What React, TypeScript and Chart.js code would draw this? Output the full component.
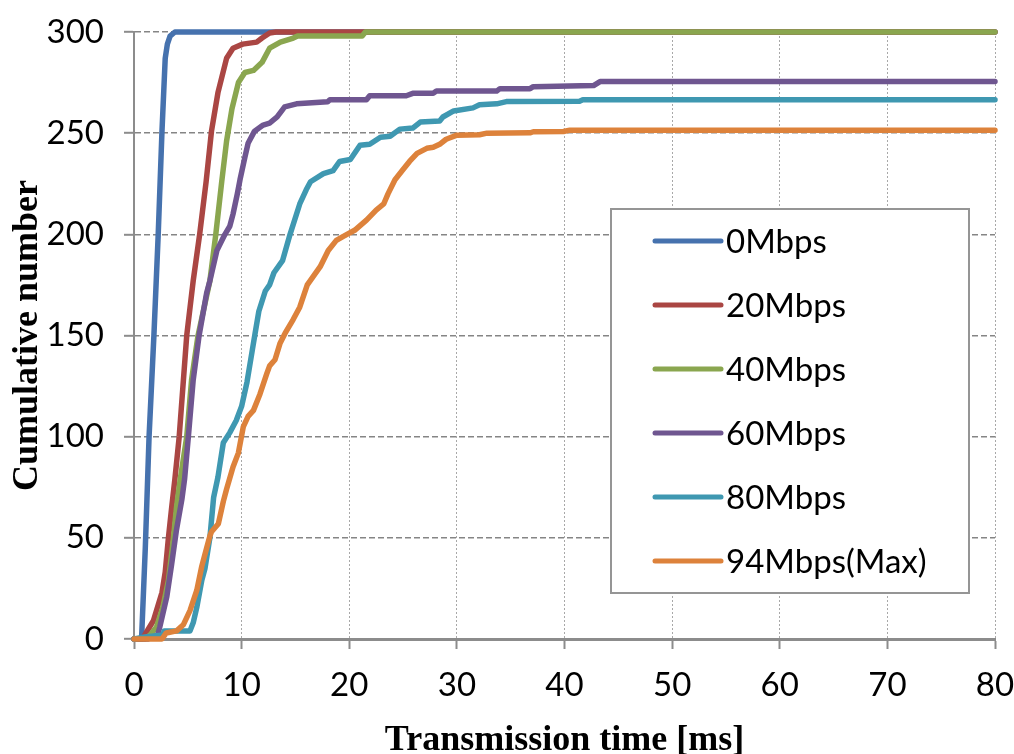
import React, { useEffect, useRef } from "react";
import { Chart, registerables } from "chart.js";

Chart.register(...registerables);

const seriesLabels = ["0Mbps", "20Mbps", "40Mbps", "60Mbps", "80Mbps", "94Mbps(Max)"];
const seriesColors = ["#4672AE", "#AA4643", "#8AA64F", "#6F5690", "#3F98B1", "#DD823B"];

const time0 = [0, 0.7, 1.05, 1.4, 1.85, 2.25, 2.6, 2.9, 3.1, 3.35, 3.8, 80];
const count0 = [0, 0, 45, 100, 150, 200, 251, 287, 294, 298, 300, 300];

const time1 = [0, 0.8, 1.0, 1.8, 2.6, 2.9, 3.2, 3.5, 3.8, 4.2, 4.9, 5.5, 6.1, 6.7, 7.2, 7.8, 8.6, 9.2, 10.1, 11.4, 11.9, 12.6, 13.2, 80];
const count1 = [0, 0, 2, 9, 23, 33, 50, 65, 79, 100, 150, 177, 200, 226, 251, 270, 287, 292, 294, 295, 297, 299.5, 300, 300];

const time2 = [0, 1.0, 1.5, 2.1, 2.7, 3.2, 3.65, 3.95, 4.3, 4.9, 5.35, 5.95, 7.05, 7.6, 8.15, 8.6, 9.1, 9.7, 10.3, 11.1, 11.9, 12.6, 13.6, 14.8, 15.2, 21.2, 21.5, 80];
const count2 = [0, 0, 2, 6, 16, 29, 49, 65, 79, 100, 128, 150, 177, 200, 226, 246, 262, 275, 280, 281, 285, 292, 295, 297, 298, 298, 300, 300];

const time3 = [0, 1.3, 2.2, 2.4, 3.05, 3.5, 3.95, 4.45, 4.7, 5.05, 5.5, 6.05, 6.75, 7.05, 7.7, 8.45, 8.9, 9.2, 9.6, 9.85, 10.3, 10.6, 11.2, 12.0, 12.6, 13.3, 14.0, 15.1, 18.0, 18.2, 21.6, 21.9, 25.3, 25.9, 27.8, 28.1, 33.7, 34.0, 36.8, 37.1, 42.7, 43.3, 80];
const count3 = [0, 0, 2, 6, 21, 37, 54, 69, 79, 100, 128, 150, 171, 177, 192, 200, 204, 210, 220, 227, 238, 245, 251, 254, 255, 258, 263, 264.5, 265.5, 266.5, 266.5, 268.5, 268.5, 269.7, 269.7, 270.8, 270.8, 272, 272, 273, 273.5, 275.5, 275.5];

const time4 = [0, 1.0, 2.7, 2.8, 5.2, 5.5, 5.85, 6.3, 6.6, 7.05, 7.4, 7.8, 8.3, 8.9, 9.5, 10.0, 10.5, 11.0, 11.25, 11.6, 12.2, 12.6, 13.0, 13.8, 14.5, 15.4, 16.0, 16.4, 17.6, 18.5, 19.1, 20.1, 21.0, 21.9, 22.9, 23.8, 24.7, 25.9, 26.6, 28.4, 28.7, 29.7, 31.5, 32.1, 33.7, 34.6, 41.4, 41.7, 80];
const count4 = [0, 1, 2, 4, 4, 8, 16, 29, 35, 50, 70, 80, 97, 102, 108, 115, 127, 143, 151, 162, 172, 175, 181, 187, 200, 215, 222, 226, 230, 231.5, 236, 237, 244, 244.5, 248, 248.5, 252, 252.5, 255.5, 256, 258, 261, 262.5, 264, 264.5, 265.6, 265.8, 266.5, 266.5];

const time5 = [0, 2.6, 3.0, 3.96, 4.58, 5.2, 5.83, 6.3, 6.75, 7.06, 7.2, 7.84, 8.3, 8.6, 9.2, 9.7, 10.16, 10.6, 11.1, 11.7, 12.33, 12.6, 13.1, 13.56, 14.03, 14.8, 15.4, 16.1, 17.3, 18.05, 18.8, 19.45, 20.5, 21.6, 22.5, 23.2, 23.6, 24.25, 25.0, 25.6, 26.3, 27.2, 27.8, 28.4, 29.0, 30.0, 32.1, 32.8, 36.8, 37.1, 39.9, 40.5, 80];
const count5 = [0, 0, 3, 4, 7, 14, 24, 36, 45, 51, 53, 57, 68, 74, 85, 92, 105, 110, 113, 121, 131, 135, 138, 146, 151, 158, 164, 175, 184, 192, 197, 199, 202, 207, 212, 215, 220, 227, 232, 236, 240, 242.5, 243, 244.5, 247, 249, 249.2, 250, 250.2, 250.7, 250.8, 251.5, 251.5];

const seriesTimes = [time0, time1, time2, time3, time4, time5];
const seriesCounts = [count0, count1, count2, count3, count4, count5];

const xMin = 0;
const xMax = 80;
const xStep = 10;
const yMin = 0;
const yMax = 300;
const yStep = 50;

const xTitle = "Transmission time [ms]";
const yTitle = "Cumulative number";

const TICK_FONT = "Lato";
const TITLE_FONT = "'Liberation Serif', 'Times New Roman', serif";

const boxLegend = {
  id: "boxLegend",
  afterDraw(chart: any) {
    const ctx = chart.ctx as CanvasRenderingContext2D;
    const left = 611, top = 209, right = 969, bottom = 593;
    ctx.save();
    ctx.fillStyle = "#ffffff";
    ctx.fillRect(left, top, right - left, bottom - top);
    ctx.strokeStyle = "#959595";
    ctx.lineWidth = 2;
    ctx.strokeRect(left, top, right - left, bottom - top);
    const firstY = 241;
    const gap = 64;
    chart.data.datasets.forEach((ds: any, i: number) => {
      const y = firstY + i * gap;
      ctx.strokeStyle = ds.borderColor;
      ctx.lineWidth = 5;
      ctx.lineCap = "round";
      ctx.beginPath();
      ctx.moveTo(655, y);
      ctx.lineTo(721, y);
      ctx.stroke();
      ctx.fillStyle = "#000000";
      ctx.font = `33px ${TICK_FONT}`;
      ctx.textBaseline = "middle";
      ctx.textAlign = "left";
      ctx.fillText(ds.label, 726, y + 1);
    });
    ctx.restore();
  },
};

export default function App() {
  const canvasRef = useRef<HTMLCanvasElement | null>(null);

  useEffect(() => {
    if (!canvasRef.current) return;
    const datasets = seriesLabels.map((label, i) => ({
      label,
      data: seriesTimes[i].map((t, j) => ({ x: t, y: seriesCounts[i][j] })),
      borderColor: seriesColors[i],
      backgroundColor: seriesColors[i],
      borderWidth: 5.5,
      pointRadius: 0,
      pointHoverRadius: 0,
      tension: 0,
      fill: false,
      borderJoinStyle: "round" as const,
      borderCapStyle: "round" as const,
      clip: false as const,
      order: -i,
    }));

    const chart = new Chart(canvasRef.current, {
      type: "line",
      data: { datasets },
      plugins: [boxLegend],
      options: {
        animation: false,
        responsive: false,
        devicePixelRatio: 1,
        layout: { padding: { top: 32, right: 19, left: 0, bottom: 0 } },
        plugins: {
          legend: { display: false },
          tooltip: { enabled: false },
        },
        scales: {
          x: {
            type: "linear",
            min: xMin,
            max: xMax,
            afterFit: (s: any) => {
              s.height = 115;
              s.paddingLeft = 0;
              s.paddingRight = 0;
            },
            ticks: {
              stepSize: xStep,
              color: "#000",
              font: { family: TICK_FONT, size: 33 },
              padding: 17,
              maxRotation: 0,
              autoSkip: false,
            },
            grid: {
              color: "#a8a8a8",
              lineWidth: 1,
              tickLength: 10,
              tickColor: "#8c8c8c",
              tickWidth: 2,
              tickBorderDash: [],
            },
            border: { display: true, color: "#8c8c8c", width: 3, dash: [2, 2] },
            title: {
              display: true,
              text: xTitle,
              color: "#000",
              font: { family: TITLE_FONT, size: 36, weight: "bold", lineHeight: 0.72 },
              padding: { top: 0, bottom: 0 },
            },
          },
          y: {
            type: "linear",
            min: yMin,
            max: yMax,
            afterFit: (s: any) => {
              s.width = 134;
              s.paddingTop = 0;
              s.paddingBottom = 0;
            },
            ticks: {
              stepSize: yStep,
              color: "#000",
              font: { family: TICK_FONT, size: 33 },
              padding: 20,
            },
            grid: {
              color: "#858585",
              lineWidth: 1.6,
              tickLength: 10,
              tickColor: "#8c8c8c",
              tickWidth: 2,
              tickBorderDash: [],
            },
            border: { display: true, color: "#8c8c8c", width: 2, dash: [6, 3] },
            title: {
              display: true,
              text: yTitle,
              color: "#000",
              font: { family: TITLE_FONT, size: 36, weight: "bold", lineHeight: 0.72 },
              padding: { top: 15, bottom: 0 },
            },
          },
        },
      } as any,
    });
    return () => chart.destroy();
  }, []);

  return (
    <div style={{ position: "absolute", left: 0, top: 0, width: 1014, height: 754, background: "#fff" }}>
      <canvas ref={canvasRef} width={1014} height={754} style={{ display: "block" }} />
    </div>
  );
}
